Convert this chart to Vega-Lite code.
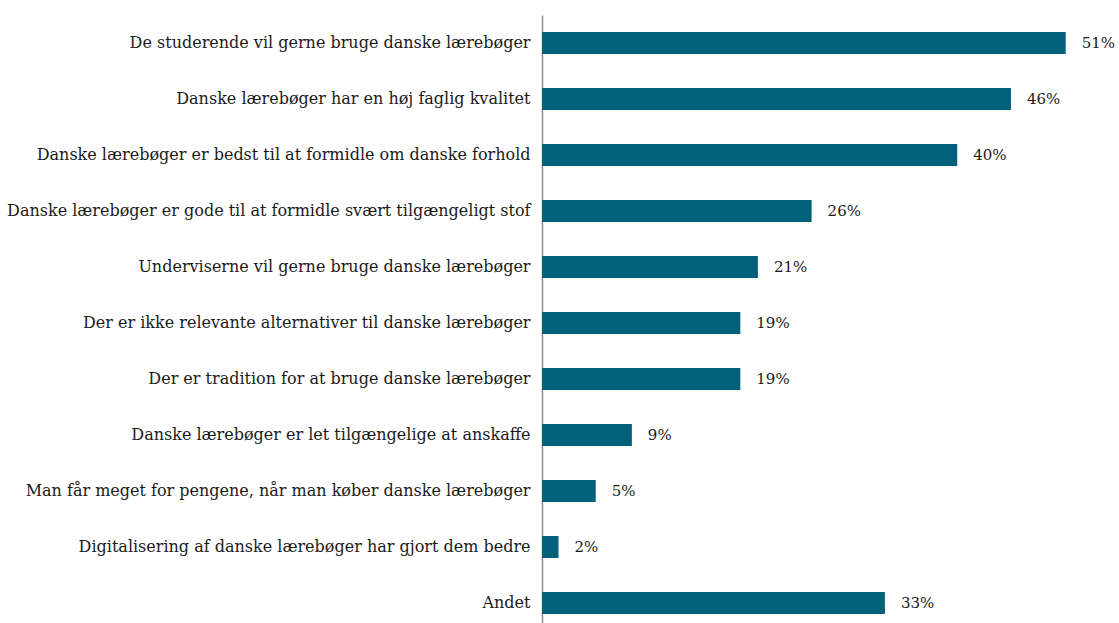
{
  "$schema": "https://vega.github.io/schema/vega-lite/v6.json",
  "autosize": {"type": "none"},
  "padding": {"left": 542, "top": 15, "right": 0, "bottom": 0},
  "width": 577,
  "height": 616,
  "config": {"view": {"stroke": null}, "font": "DejaVu Serif"},
  "data": {"values": [
    {"grund": "De studerende vil gerne bruge danske lærebøger", "andel": 50.7, "label": "51%"},
    {"grund": "Danske lærebøger har en høj faglig kvalitet", "andel": 45.4, "label": "46%"},
    {"grund": "Danske lærebøger er bedst til at formidle om danske forhold", "andel": 40.2, "label": "40%"},
    {"grund": "Danske lærebøger er gode til at formidle svært tilgængeligt stof", "andel": 26.1, "label": "26%"},
    {"grund": "Underviserne vil gerne bruge danske lærebøger", "andel": 20.9, "label": "21%"},
    {"grund": "Der er ikke relevante alternativer til danske lærebøger", "andel": 19.2, "label": "19%"},
    {"grund": "Der er tradition for at bruge danske lærebøger", "andel": 19.2, "label": "19%"},
    {"grund": "Danske lærebøger er let tilgængelige at anskaffe", "andel": 8.7, "label": "9%"},
    {"grund": "Man får meget for pengene, når man køber danske lærebøger", "andel": 5.2, "label": "5%"},
    {"grund": "Digitalisering af danske lærebøger har gjort dem bedre", "andel": 1.6, "label": "2%"},
    {"grund": "Andet", "andel": 33.2, "label": "33%"}
  ]},
  "encoding": {
    "y": {
      "field": "grund", "type": "nominal", "sort": null,
      "scale": {"paddingInner": 0.607, "paddingOuter": 0.3035},
      "axis": {
        "title": null, "ticks": false, "domain": true, "domainColor": "#8a8a8a", "domainWidth": 1.5,
        "labelFont": "DejaVu Serif", "labelFontSize": 16, "labelColor": "#1a1a1a",
        "labelPadding": 12, "labelLimit": 600
      }
    },
    "x": {
      "field": "andel", "type": "quantitative",
      "scale": {"domain": [0, 55.86], "nice": false},
      "axis": null
    }
  },
  "layer": [
    {"mark": {"type": "bar", "color": "#03607a"}},
    {
      "mark": {"type": "text", "align": "left", "baseline": "middle", "dx": 16, "font": "DejaVu Serif", "fontSize": 15, "color": "#1a1a1a"},
      "encoding": {"text": {"field": "label"}}
    }
  ]
}
